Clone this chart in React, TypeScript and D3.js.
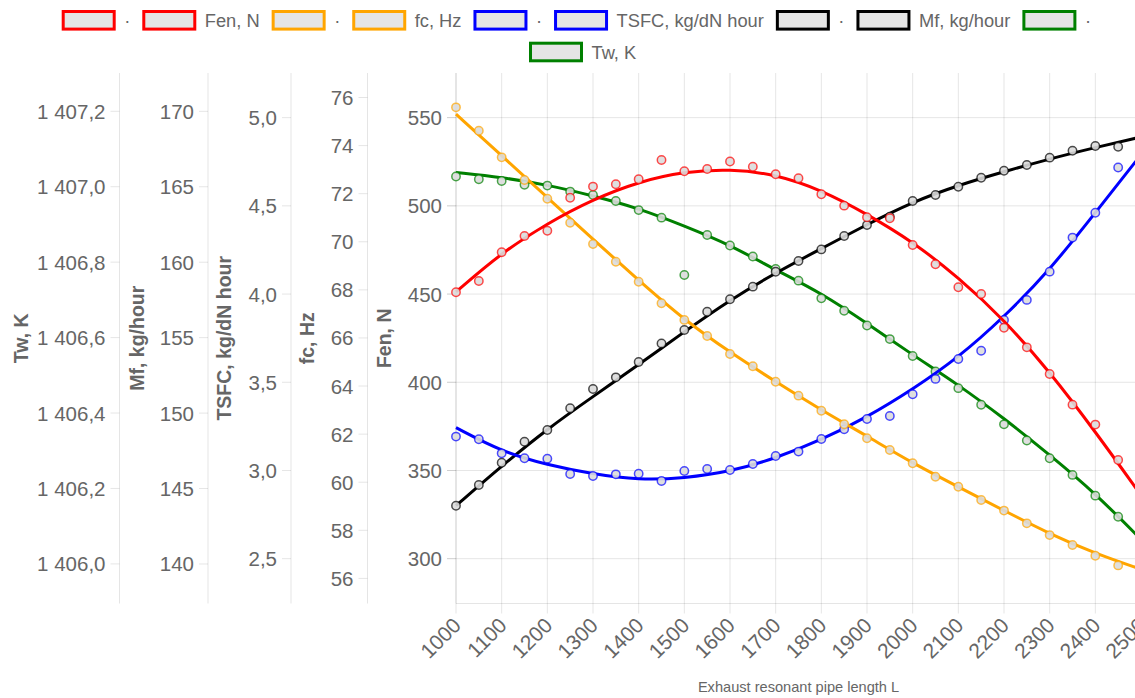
import React from "react";
import * as d3 from "d3";

// pipe length L, scatter points
const xPoints = [1000, 1050, 1100, 1150, 1200, 1250, 1300, 1350, 1400, 1450, 1500, 1550, 1600, 1650, 1700,
  1750, 1800, 1850, 1900, 1950, 2000, 2050, 2100, 2150, 2200, 2250, 2300, 2350, 2400, 2450];

const fenPoints = [451.0, 457.4, 473.7, 482.9, 485.9, 504.6, 510.9, 512.2, 515.1, 526.0, 519.6, 520.9, 525.1, 522.2, 517.9,
  515.6, 506.6, 500.1, 493.5, 493.0, 477.8, 466.9, 453.9, 450.0, 430.9, 419.8, 404.7, 387.3, 376.0, 355.9];
const fcPoints = [75.59, 74.62, 73.51, 72.57, 71.79, 70.79, 69.91, 69.17, 68.34, 67.44, 66.75, 66.08, 65.33, 64.82, 64.18,
  63.60, 62.97, 62.41, 61.83, 61.34, 60.79, 60.23, 59.81, 59.26, 58.82, 58.29, 57.80, 57.39, 56.94, 56.54];
const tsfcPoints = [3.192, 3.177, 3.097, 3.069, 3.067, 2.980, 2.969, 2.978, 2.982, 2.940, 2.997, 3.008, 3.003, 3.037, 3.082,
  3.107, 3.178, 3.234, 3.292, 3.309, 3.432, 3.519, 3.632, 3.679, 3.853, 3.967, 4.127, 4.320, 4.461, 4.717];
const mfPoints = [143.86, 145.23, 146.71, 148.10, 148.88, 150.32, 151.60, 152.37, 153.39, 154.62, 155.51, 156.72, 157.54, 158.38, 159.37,
  160.08, 160.85, 161.74, 162.46, 163.02, 164.06, 164.45, 165.00, 165.60, 166.06, 166.44, 166.93, 167.39, 167.70, 167.65];
const twPoints = [1407.027, 1407.020, 1407.015, 1407.005, 1407.003, 1406.987, 1406.978, 1406.962, 1406.938, 1406.918, 1406.766, 1406.872, 1406.844, 1406.815, 1406.782,
  1406.751, 1406.704, 1406.671, 1406.632, 1406.596, 1406.551, 1406.510, 1406.466, 1406.422, 1406.370, 1406.327, 1406.280, 1406.236, 1406.181, 1406.125];

// fitted curves
const xFit = [1000, 1100, 1200, 1300, 1400, 1500, 1600, 1700, 1800, 1900, 2000, 2100, 2200, 2300, 2400, 2500];
const fenFit = [451.2, 473.5, 490.1, 503.7, 513.7, 519.4, 520.9, 517.9, 509.0, 495.4, 479.7, 459.5, 435.5, 406.0, 372.0, 336.0];
const fcFit = [75.31, 73.58, 71.84, 70.10, 68.40, 66.75, 65.40, 64.18, 63.00, 61.92, 60.79, 59.81, 58.82, 57.85, 57.04, 56.38];
const tsfcFit = [3.243, 3.107, 3.031, 2.980, 2.946, 2.956, 2.993, 3.069, 3.173, 3.302, 3.460, 3.640, 3.870, 4.135, 4.461, 4.790];
const mfFit = [143.86, 146.5, 148.95, 151.1, 153.2, 155.4, 157.5, 159.3, 160.9, 162.5, 164.0, 165.1, 166.0, 166.85, 167.6, 168.3];
const twFit = [1407.038, 1407.025, 1407.005, 1406.976, 1406.943, 1406.896, 1406.846, 1406.779, 1406.718, 1406.638, 1406.554, 1406.475, 1406.386, 1406.289, 1406.187, 1406.065];

// axis ticks
const xTicks = [1000, 1100, 1200, 1300, 1400, 1500, 1600, 1700, 1800, 1900, 2000, 2100, 2200, 2300, 2400, 2500];
const fenTicks = [300, 350, 400, 450, 500, 550];
const fcTicks = [56, 58, 60, 62, 64, 66, 68, 70, 72, 74, 76];
const tsfcTicks = [2.5, 3.0, 3.5, 4.0, 4.5, 5.0];
const mfTicks = [140, 145, 150, 155, 160, 165, 170];
const twTicks = [1406.0, 1406.2, 1406.4, 1406.6, 1406.8, 1407.0, 1407.2];

const W = 1135;
const H = 698;
const top = 73;
const bottom = 603.5;
const left = 456;
const right = 1141;
const font = "'Liberation Sans', Arial, Helvetica, sans-serif";
const gray = "#666";
const grid = "rgba(0,0,0,0.1)";

const ru = d3.formatLocale({ decimal: ",", thousands: "\u00a0", grouping: [3], currency: ["", ""] });

const x = d3.scaleLinear().domain([1000, 2500]).range([left, right]);

const axes = [
  { key: "tw", title: "Tw, K", domain: [1405.895, 1407.3015], ticks: twTicks, fmt: ru.format(",.1f"), ax: 119.5, tx: 21 },
  { key: "mf", title: "Mf, kg/hour", domain: [137.38, 172.54], ticks: mfTicks, fmt: ru.format("d"), ax: 208, tx: 137 },
  { key: "tsfc", title: "TSFC, kg/dN hour", domain: [2.246, 5.253], ticks: tsfcTicks, fmt: ru.format(".1f"), ax: 291, tx: 224 },
  { key: "fc", title: "fc, Hz", domain: [54.956, 77.019], ticks: fcTicks, fmt: ru.format("d"), ax: 367.5, tx: 307 },
  { key: "fen", title: "Fen, N", domain: [274.6, 575.3], ticks: fenTicks, fmt: ru.format("d"), ax: left, tx: 384 },
];
const yScales: Record<string, d3.ScaleLinear<number, number>> = {};
axes.forEach((a) => {
  yScales[a.key] = d3.scaleLinear().domain(a.domain).range([bottom, top]);
});

const series = [
  { name: "Fen, N", color: "#ff0000", axis: "fen", pts: fenPoints, fit: fenFit },
  { name: "fc, Hz", color: "#ffa500", axis: "fc", pts: fcPoints, fit: fcFit },
  { name: "TSFC, kg/dN hour", color: "#0000ff", axis: "tsfc", pts: tsfcPoints, fit: tsfcFit },
  { name: "Mf, kg/hour", color: "#000000", axis: "mf", pts: mfPoints, fit: mfFit },
  { name: "Tw, K", color: "#008000", axis: "tw", pts: twPoints, fit: twFit },
];

const legendFont = 18.3;
let ctx: CanvasRenderingContext2D | null = null;
function textWidth(t: string) {
  if (!ctx) ctx = document.createElement("canvas").getContext("2d");
  if (!ctx) return t.length * legendFont * 0.5;
  ctx.font = `${legendFont}px 'Liberation Sans', Arial, sans-serif`;
  return ctx.measureText(t).width;
}

function Legend() {
  const items = series.flatMap((s) => [
    { label: "·", color: s.color },
    { label: s.name, color: s.color },
  ]);
  const rows = [
    { items: items.slice(0, 9), x0: 61.7, y: 20.3 },
    { items: items.slice(9), x0: 529, y: 52 },
  ];
  return (
    <g>
      {rows.map((r, ri) => {
        let cx = r.x0;
        return r.items.map((it, i) => {
          const bx = cx;
          const tw = textWidth(it.label);
          cx = bx + 62.5 + tw + 12;
          return (
            <g key={`${ri}-${i}`}>
              <rect x={bx + 1.5} y={r.y - 8.8} width={51} height={17.6} fill="#e5e5e5" stroke={it.color} strokeWidth={3} />
              <text x={bx + 62.5} y={r.y} dominantBaseline="central" fontSize={legendFont} fill={gray} fontFamily={font}>
                {it.label}
              </text>
            </g>
          );
        });
      })}
    </g>
  );
}

export default function App() {
  const lineGen = (sc: d3.ScaleLinear<number, number>) =>
    d3.line<number>().x((_, i) => x(xFit[i])).y((d) => sc(d)).curve(d3.curveBasis);

  return (
    <svg width={W} height={H} style={{ position: "absolute", left: 0, top: 0, background: "#fff" }} fontFamily={font}>
      <Legend />
      {/* x grid */}
      {xTicks.map((t) => (
        <line key={t} x1={x(t)} x2={x(t)} y1={top} y2={bottom + 10} stroke={grid} strokeWidth={1} />
      ))}
      {/* fen horizontal grid */}
      {fenTicks.map((t) => (
        <line key={t} x1={left - 9} x2={right} y1={yScales.fen(t)} y2={yScales.fen(t)} stroke={grid} strokeWidth={1} />
      ))}
      <line x1={left} x2={right} y1={bottom} y2={bottom} stroke={grid} />
      {/* y axes */}
      {axes.map((a) => {
        const sc = yScales[a.key];
        return (
          <g key={a.key}>
            <line x1={a.ax} x2={a.ax} y1={top} y2={bottom} stroke={grid} />
            {a.ticks.map((t) => (
              <g key={t}>
                <line x1={a.ax - 9} x2={a.ax} y1={sc(t)} y2={sc(t)} stroke={grid} />
                <text x={a.ax - 14} y={sc(t)} textAnchor="end" dominantBaseline="central" fontSize={20.5} fill={gray}>
                  {a.fmt(t)}
                </text>
              </g>
            ))}
            <text
              transform={`translate(${a.tx},${(top + bottom) / 2}) rotate(-90)`}
              textAnchor="middle"
              dominantBaseline="central"
              fontSize={19.5}
              fontWeight="bold"
              fill={gray}
            >
              {a.title}
            </text>
          </g>
        );
      })}
      {/* x tick labels */}
      {xTicks.map((t) => (
        <text
          key={t}
          transform={`translate(${x(t) + 1},${bottom + 18}) rotate(-45)`}
          textAnchor="end"
          dominantBaseline="central"
          fontSize={21}
          fill={gray}
        >
          {t}
        </text>
      ))}
      <text x={(left + right) / 2} y={687} textAnchor="middle" dominantBaseline="central" fontSize={14.6} fill={gray}>
        Exhaust resonant pipe length L
      </text>
      {/* series, first dataset on top */}
      {[...series].reverse().map((s) => {
        const sc = yScales[s.axis];
        return (
          <g key={s.name}>
            <path d={lineGen(sc)(s.fit) || ""} fill="none" stroke={s.color} strokeWidth={3} />
            {s.pts.map((v, i) => (
              <circle
                key={i}
                cx={x(xPoints[i])}
                cy={sc(v)}
                r={4.2}
                fill="rgba(220,220,220,0.9)"
                stroke={s.color}
                strokeOpacity={0.7}
                strokeWidth={1.5}
              />
            ))}
          </g>
        );
      })}
    </svg>
  );
}
